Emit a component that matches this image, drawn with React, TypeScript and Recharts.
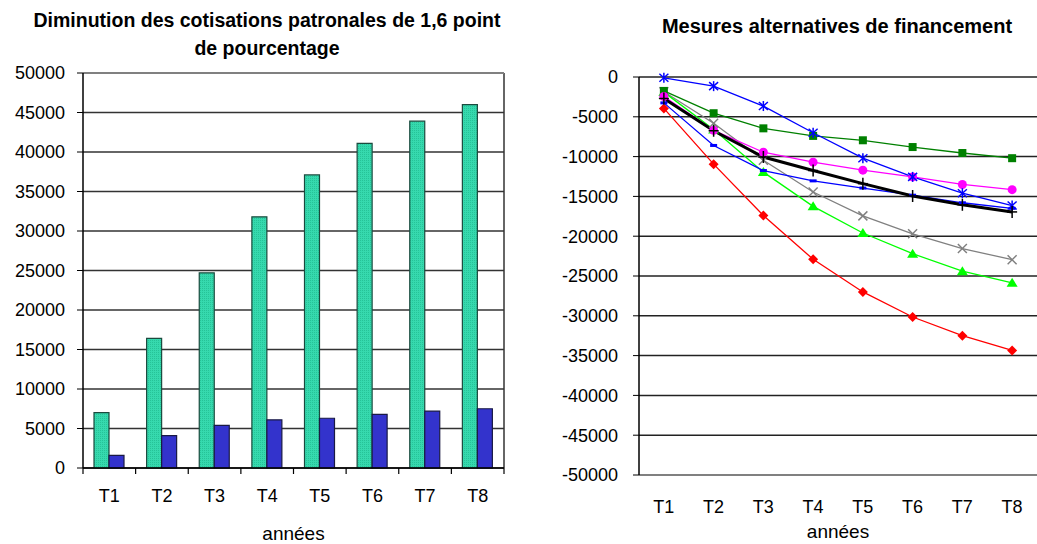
import React from "react";
import {
  BarChart,
  Bar,
  LineChart,
  Line,
  XAxis,
  YAxis,
  CartesianGrid,
  ReferenceLine,
  Label,
} from "recharts";

const FONT = "'Liberation Sans', Arial, sans-serif";

const categories = ["T1", "T2", "T3", "T4", "T5", "T6", "T7", "T8"];

// left chart : diminution des cotisations patronales
const cotisationsTotal = [7000, 16400, 24700, 31800, 37100, 41100, 43900, 46000];
const cotisationsNet = [1600, 4100, 5400, 6100, 6300, 6800, 7200, 7500];
const leftTicks = [0, 5000, 10000, 15000, 20000, 25000, 30000, 35000, 40000, 45000, 50000];

// right chart : mesures alternatives
const blueStar = [-100, -1150, -3650, -7000, -10200, -12550, -14600, -16150];
const greenSquare = [-1750, -4550, -6450, -7400, -7950, -8800, -9550, -10200];
const magentaCircle = [-2450, -6700, -9450, -10700, -11700, -12550, -13500, -14150];
const blackPlus = [-2700, -6750, -10050, -11750, -13400, -14950, -16050, -16950];
const blueDash = [-3250, -8600, -11750, -13050, -13950, -14850, -15800, -16500];
const grayCross = [-1850, -5800, -10450, -14450, -17450, -19700, -21550, -22950];
const limeTriangle = [-1900, -6600, -11950, -16250, -19600, -22200, -24400, -25850];
const redDiamond = [-3950, -10950, -17400, -22900, -27000, -30150, -32500, -34350];
const rightTicks = [0, -5000, -10000, -15000, -20000, -25000, -30000, -35000, -40000, -45000, -50000];

const barData = categories.map((c, i) => ({
  cat: c,
  total: cotisationsTotal[i],
  net: cotisationsNet[i],
}));

const lineData = categories.map((c, i) => ({
  cat: c,
  star: blueStar[i],
  square: greenSquare[i],
  circle: magentaCircle[i],
  plus: blackPlus[i],
  dash: blueDash[i],
  cross: grayCross[i],
  triangle: limeTriangle[i],
  diamond: redDiamond[i],
}));

function halfBand(props: any) {
  const { payload, width, visibleTicksCount } = props;
  if (payload && typeof payload.offset === "number" && payload.offset > 0) return payload.offset;
  return width / visibleTicksCount / 2;
}

// category label + tick marks at the category boundaries
const BoundaryTick = (props: any) => {
  const { x, y, payload, index, visibleTicksCount, labelDy, marks } = props;
  const half = halfBand(props);
  return (
    <g>
      {marks && <line x1={x - half} x2={x - half} y1={y} y2={y + 6} stroke="#000" strokeWidth={1.2} />}
      {marks && index === visibleTicksCount - 1 && (
        <line x1={x + half} x2={x + half} y1={y} y2={y + 6} stroke="#000" strokeWidth={1.2} />
      )}
      {labelDy != null && (
        <text x={x} y={y + labelDy} textAnchor="middle" fontSize={18} fill="#000" fontFamily={FONT}>
          {payload.value}
        </text>
      )}
    </g>
  );
};

const Star = ({ cx, cy }: any) => (
  <g stroke="#0000ff" strokeWidth={1.5}>
    <line x1={cx} y1={cy - 5} x2={cx} y2={cy + 5} />
    <line x1={cx - 4.5} y1={cy - 4} x2={cx + 4.5} y2={cy + 4} />
    <line x1={cx - 4.5} y1={cy + 4} x2={cx + 4.5} y2={cy - 4} />
  </g>
);
const Square = ({ cx, cy }: any) => <rect x={cx - 4} y={cy - 4} width={8} height={8} fill="#008000" />;
const Circle = ({ cx, cy }: any) => <circle cx={cx} cy={cy} r={4.5} fill="#ff00ff" />;
const Plus = ({ cx, cy }: any) => (
  <g stroke="#000" strokeWidth={1.5}>
    <line x1={cx} y1={cy - 6} x2={cx} y2={cy + 6} />
    <line x1={cx - 5} y1={cy} x2={cx + 5} y2={cy} />
  </g>
);
const Dash = ({ cx, cy }: any) => <rect x={cx - 3.5} y={cy - 1.5} width={7} height={3} fill="#0000ff" />;
const Cross = ({ cx, cy }: any) => (
  <g stroke="#808080" strokeWidth={1.5}>
    <line x1={cx - 4.5} y1={cy - 4.5} x2={cx + 4.5} y2={cy + 4.5} />
    <line x1={cx - 4.5} y1={cy + 4.5} x2={cx + 4.5} y2={cy - 4.5} />
  </g>
);
const Triangle = ({ cx, cy }: any) => (
  <polygon points={`${cx},${cy - 5} ${cx + 5.5},${cy + 4} ${cx - 5.5},${cy + 4}`} fill="#00ff00" />
);
const Diamond = ({ cx, cy }: any) => (
  <polygon points={`${cx},${cy - 5} ${cx + 5},${cy} ${cx},${cy + 5} ${cx - 5},${cy}`} fill="#ff0000" />
);

const series = [
  { key: "cross", color: "#808080", width: 1.3, Marker: Cross },
  { key: "triangle", color: "#00ff00", width: 1.3, Marker: Triangle },
  { key: "diamond", color: "#ff0000", width: 1.3, Marker: Diamond },
  { key: "dash", color: "#0000ff", width: 1.3, Marker: Dash },
  { key: "square", color: "#008000", width: 1.3, Marker: Square },
  { key: "circle", color: "#ff00ff", width: 1.3, Marker: Circle },
  { key: "star", color: "#0000ff", width: 1.3, Marker: Star },
  { key: "plus", color: "#000000", width: 3, Marker: Plus },
];

export default function App() {
  return (
    <div style={{ position: "absolute", left: 0, top: 0, width: 1037, height: 544, background: "#fff", fontFamily: FONT }}>
      <div
        style={{
          position: "absolute",
          left: 0,
          top: 6,
          width: 534,
          textAlign: "center",
          fontWeight: "bold",
          fontSize: 19.5,
          lineHeight: "28px",
        }}
      >
        Diminution des cotisations patronales de 1,6 point
        <br />
        de pourcentage
      </div>
      <div
        style={{
          position: "absolute",
          left: 637,
          top: 14,
          width: 400,
          textAlign: "center",
          fontWeight: "bold",
          fontSize: 20,
          lineHeight: "24px",
        }}
      >
        Mesures alternatives de financement
      </div>

      <div style={{ position: "absolute", left: 0, top: 0 }}>
        <BarChart
          width={530}
          height={544}
          data={barData}
          margin={{ top: 73, right: 26, left: 0, bottom: 0 }}
          barGap={0}
          style={{ fontFamily: FONT }}
        >
          <defs>
            <pattern id="tealDots" width="2" height="2" patternUnits="userSpaceOnUse">
              <rect width="2" height="2" fill="#36d9ae" />
              <rect width="1" height="1" fill="#26c398" />
            </pattern>
          </defs>
          <CartesianGrid
            stroke="#333"
            strokeWidth={1.5}
            verticalCoordinatesGenerator={({ offset }: any) => [offset.left + offset.width]}
            verticalFill={[]}
          />
          <ReferenceLine y={50000} stroke="#808080" strokeWidth={2} />
          <XAxis
            dataKey="cat"
            height={76}
            axisLine={{ stroke: "#000", strokeWidth: 1.5 }}
            tickLine={false}
            tickSize={0}
            tickMargin={0}
            interval={0}
            tick={<BoundaryTick labelDy={34} marks />}
          >
            <Label value="années" position="insideBottom" offset={4} fontSize={19} fill="#000" fontFamily={FONT} />
          </XAxis>
          <YAxis
            width={83}
            domain={[0, 50000]}
            ticks={leftTicks}
            interval={0}
            axisLine={{ stroke: "#000", strokeWidth: 1.5 }}
            tickLine={{ stroke: "#000" }}
            tickSize={6}
            tickMargin={12}
            tick={{ fill: "#000", fontSize: 18, fontFamily: FONT }}
          />
          <Bar dataKey="total" barSize={15} fill="url(#tealDots)" stroke="#1b4a3e" strokeWidth={1.2} isAnimationActive={false} />
          <Bar dataKey="net" barSize={15} fill="#3333cc" stroke="#1a1a44" strokeWidth={1.2} isAnimationActive={false} />
        </BarChart>
      </div>

      <div style={{ position: "absolute", left: 530, top: 0 }}>
        <LineChart
          width={507}
          height={544}
          data={lineData}
          margin={{ top: 77, right: 0, left: 0, bottom: 0 }}
          style={{ fontFamily: FONT }}
        >
          <CartesianGrid xAxisId="bottom" vertical={false} stroke="#222" strokeWidth={1.5} />
          <ReferenceLine xAxisId="bottom" y={-50000} stroke="#808080" strokeWidth={2} />
          <XAxis
            xAxisId="top"
            orientation="top"
            dataKey="cat"
            scale="band"
            height={0}
            axisLine={{ stroke: "#000", strokeWidth: 1.5 }}
            tickLine={false}
            tickSize={0}
            tickMargin={0}
            interval={0}
            tick={<BoundaryTick marks />}
          />
          <XAxis
            xAxisId="bottom"
            dataKey="cat"
            scale="band"
            height={69}
            axisLine={false}
            tickLine={false}
            tickSize={0}
            tickMargin={0}
            interval={0}
            tick={<BoundaryTick labelDy={38} />}
          >
            <Label value="années" position="insideBottom" offset={6} fontSize={19} fill="#000" fontFamily={FONT} />
          </XAxis>
          <YAxis
            width={109}
            domain={[-50000, 0]}
            ticks={rightTicks}
            interval={0}
            axisLine={{ stroke: "#000", strokeWidth: 1.5 }}
            tickLine={{ stroke: "#000" }}
            tickSize={6}
            tickMargin={15}
            tick={{ fill: "#000", fontSize: 18, fontFamily: FONT }}
          />
          {series.map(({ key, color, width, Marker }) => (
            <Line
              key={key}
              xAxisId="bottom"
              type="linear"
              dataKey={key}
              stroke={color}
              strokeWidth={width}
              dot={(p: any) => <Marker key={`${key}-${p.index}`} cx={p.cx} cy={p.cy} />}
              activeDot={false}
              isAnimationActive={false}
            />
          ))}
        </LineChart>
      </div>
    </div>
  );
}
